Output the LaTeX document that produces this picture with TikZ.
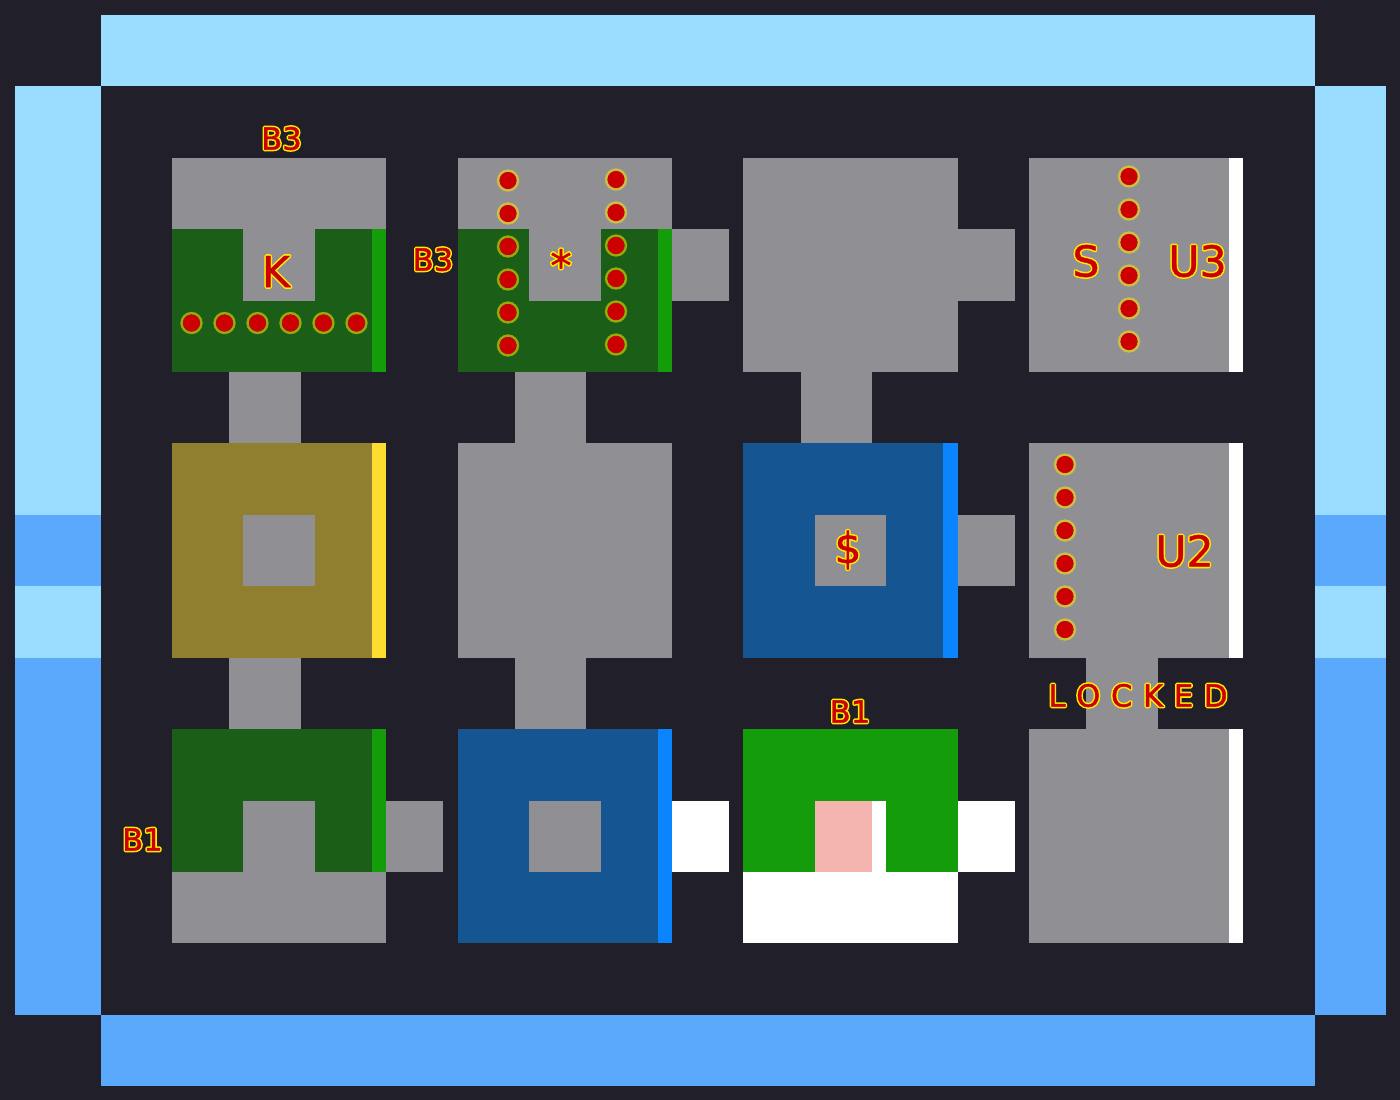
\documentclass[tikz,border=0pt]{standalone}
\usepackage{fontspec}
\setmainfont{DejaVu Sans}
\definecolor{bgc}{HTML}{211F29}
\definecolor{grayc}{HTML}{908F94}
\definecolor{lightb}{HTML}{99DCFF}
\definecolor{midb}{HTML}{5AA9FD}
\definecolor{dgreen}{HTML}{1B5E18}
\definecolor{bgreen}{HTML}{149C0B}
\definecolor{olivec}{HTML}{8F7F2E}
\definecolor{yellowc}{HTML}{FFDC30}
\definecolor{ringc}{HTML}{FFEA00}
\definecolor{dblue}{HTML}{145592}
\definecolor{bblue}{HTML}{0A84FF}
\definecolor{pinkc}{HTML}{F4B4AF}
\definecolor{redc}{HTML}{CC0000}
\newcommand{\outl}[1]{\rlap{\special{pdf:code q 1 Tr 1 0.93 0 RG 2.6 w 1 j}#1\special{pdf:code Q}}\special{pdf:code q 2 Tr 0.8 0 0 RG 0.8 0 0 rg 0.3 w 1 j}#1\special{pdf:code Q}}
\newcommand{\bx}[5]{\fill[#1] (#2,#3) rectangle (#4,#5);}
\newcommand{\dotat}[3]{\node[ringdot] (#1) at (#2,#3) {}; \fill[redc] (#1.center) circle (8.6);}
\tikzset{
  lab/.style={inner sep=0pt,outer sep=0pt,anchor=center,text=redc},
  labs/.style={lab,font=\fontsize{23pt}{25pt}\selectfont},
  labm/.style={lab,font=\fontsize{32pt}{34pt}\selectfont},
  ringdot/.style={circle,draw=ringc,draw opacity=0.55,line width=1.9pt,minimum size=14.8pt,inner sep=0pt,outer sep=0pt}
}
\begin{document}
\begin{tikzpicture}[x=0.75pt,y=-0.75pt]
\fill[bgc] (0,0) rectangle (1400,1100);
\useasboundingbox (0,0) rectangle (1400,1100);
% frame
\bx{lightb}{101}{15}{1315}{86}
\bx{midb}{101}{1015}{1315}{1086}
\foreach \xa/\xb in {15/101,1315/1386}{
  \bx{lightb}{\xa}{86}{\xb}{515}
  \bx{midb}{\xa}{515}{\xb}{586}
  \bx{lightb}{\xa}{586}{\xb}{658}
  \bx{midb}{\xa}{658}{\xb}{1015}
}
% doors
\bx{grayc}{229}{372}{301}{443}
\bx{grayc}{515}{372}{586}{443}
\bx{grayc}{801}{372}{872}{443}
\bx{grayc}{229}{658}{301}{729}
\bx{grayc}{515}{658}{586}{729}
\bx{grayc}{1086}{658}{1158}{729}
\bx{grayc}{672}{229}{729}{301}
\bx{grayc}{958}{229}{1015}{301}
\bx{grayc}{958}{515}{1015}{586}
\bx{grayc}{386}{801}{443}{872}
\bx{white}{672}{801}{729}{872}
\bx{white}{958}{801}{1015}{872}
% row 1
\bx{grayc}{172}{158}{386}{229}
\bx{dgreen}{172}{229}{386}{372}
\bx{grayc}{243}{229}{315}{301}
\bx{bgreen}{372}{229}{386}{372}
\bx{grayc}{458}{158}{672}{229}
\bx{dgreen}{458}{229}{672}{372}
\bx{grayc}{529}{229}{601}{301}
\bx{bgreen}{658}{229}{672}{372}
\bx{grayc}{743}{158}{958}{372}
\bx{grayc}{1029}{158}{1243}{372}
\bx{white}{1229}{158}{1243}{372}
% row 2
\bx{olivec}{172}{443}{386}{658}
\bx{yellowc}{372}{443}{386}{658}
\bx{grayc}{243}{515}{315}{586}
\bx{grayc}{458}{443}{672}{658}
\bx{dblue}{743}{443}{958}{658}
\bx{bblue}{943}{443}{958}{658}
\bx{grayc}{815}{515}{886}{586}
\bx{grayc}{1029}{443}{1243}{658}
\bx{white}{1229}{443}{1243}{658}
% row 3
\bx{dgreen}{172}{729}{386}{872}
\bx{grayc}{172}{872}{386}{943}
\bx{grayc}{243}{801}{315}{872}
\bx{bgreen}{372}{729}{386}{872}
\bx{dblue}{458}{729}{672}{943}
\bx{bblue}{658}{729}{672}{943}
\bx{grayc}{529}{801}{601}{872}
\bx{bgreen}{743}{729}{958}{872}
\bx{white}{743}{872}{958}{943}
\bx{white}{815}{801}{886}{872}
\bx{pinkc}{815}{801}{872}{872}
\bx{grayc}{1029}{729}{1243}{943}
\bx{white}{1229}{729}{1243}{943}
% dots
\foreach \n/\x in {1/191.5,2/224.5,3/257.5,4/290.5,5/323.5,6/356.5}{\dotat{da\n}{\x}{323}}
\foreach \n/\y in {1/180.5,2/213.5,3/246.5,4/279.5,5/312.5,6/345.5}{\dotat{db\n}{508}{\y}}
\foreach \n/\y in {1/179.5,2/212.5,3/245.5,4/278.5,5/311.5,6/344.5}{\dotat{dc\n}{616}{\y}}
\foreach \n/\y in {1/176.5,2/209.5,3/242.5,4/275.5,5/308.5,6/341.5}{\dotat{dd\n}{1129}{\y}}
\foreach \n/\y in {1/464.5,2/497.5,3/530.5,4/563.5,5/596.5,6/629.5}{\dotat{de\n}{1065}{\y}}
% labels
\node[labs] (b3a) at (281.5,138.5) {\outl{B3}};
\node[labs] (b3b) at (433,259.5) {\outl{B3}};
\node[labs] (b1a) at (142.5,839.5) {\outl{B1}};
\node[labs] (b1b) at (850,711.5) {\outl{B1}};
\node[labm] (k) at (276,271.5) {\outl{K}};
\node[labm] (star) at (561,265) {\outl{*}};
\node[labm] (dollar) at (848,550) {\outl{\$}};
\node[labm] (s) at (1086,261) {\outl{S}};
\node[labm] (u3) at (1197.5,261) {\outl{U3}};
\node[labm] (u2) at (1184.5,551) {\outl{U2}};
\node[labs] (locked) at (1138,695.5) {\spaceskip=8pt\outl{L O C K E D}};
\end{tikzpicture}
\end{document}
